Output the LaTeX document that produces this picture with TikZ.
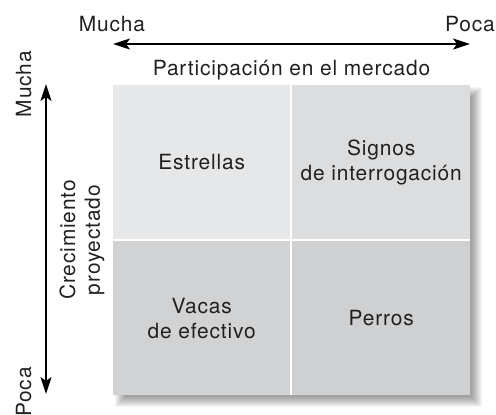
\documentclass[tikz,border=0pt]{standalone}
\usepackage{fontspec}
\setmainfont[LetterSpace=4]{TeX Gyre Heros}
\usetikzlibrary{arrows.meta,positioning}
\definecolor{tinta}{HTML}{231F20}
\definecolor{grisA}{HTML}{E6E7E8}
\definecolor{grisB}{HTML}{DCDDDE}
\definecolor{grisC}{HTML}{D1D2D4}
\definecolor{grisD}{HTML}{CFD0D2}

\begin{document}
\begin{tikzpicture}[x=1bp,y=-1bp,line cap=round,line join=round,>={Stealth[length=17bp,width=11bp,inset=4bp]},every node/.style={inner sep=1pt,text=tinta,font=\fontsize{21}{25}\selectfont}]
  \useasboundingbox (0,0) rectangle (496,414);
  \tikzset{celda/.style={anchor=north west,inner sep=0pt,minimum height=154bp,align=center}}
  % sombra
  \foreach \r in {0,1,...,10}{
    \fill[black,opacity=0.04] ({125-\r},{97-\r}) rectangle ({472+\r},{397+\r});
  }
  \fill[white] (113,85) rectangle (470,395);
  \node[celda,fill=grisA,minimum width=177bp] (estrellas) at (113,85) {Estrellas};
  \node[celda,fill=grisB,minimum width=178bp] (signos) at (292,85) {Signos\\de interrogación};
  \node[celda,fill=grisC,minimum width=177bp] (vacas) at (113,241) {Vacas\\de efectivo};
  \node[celda,fill=grisD,minimum width=178bp] (perros) at (292,241) {Perros};
  % eje horizontal
  \coordinate (hIzq) at (113,44);
  \coordinate (hDer) at (470,44);
  \draw[<->,line width=2bp] (hIzq) -- (hDer);
  \node[anchor=base] (muchaH) at (112,31) {Mucha};
  \node[anchor=base] (pocaH) at (470,31) {Poca};
  \node[anchor=base] (mercado) at (291.5,75) {Participación en el mercado};
  % eje vertical
  \coordinate (vArr) at (46,84);
  \coordinate (vAbj) at (46,394);
  \draw[<->,line width=2bp] (vArr) -- (vAbj);
  \node[anchor=base,rotate=90] (muchaV) at (31,84) {Mucha};
  \node[anchor=base,rotate=90] (pocaV) at (31,392) {Poca};
  \node[rotate=90,align=center] (crecimiento) at (82,240) {Crecimiento\\proyectado};
\end{tikzpicture}
\end{document}
